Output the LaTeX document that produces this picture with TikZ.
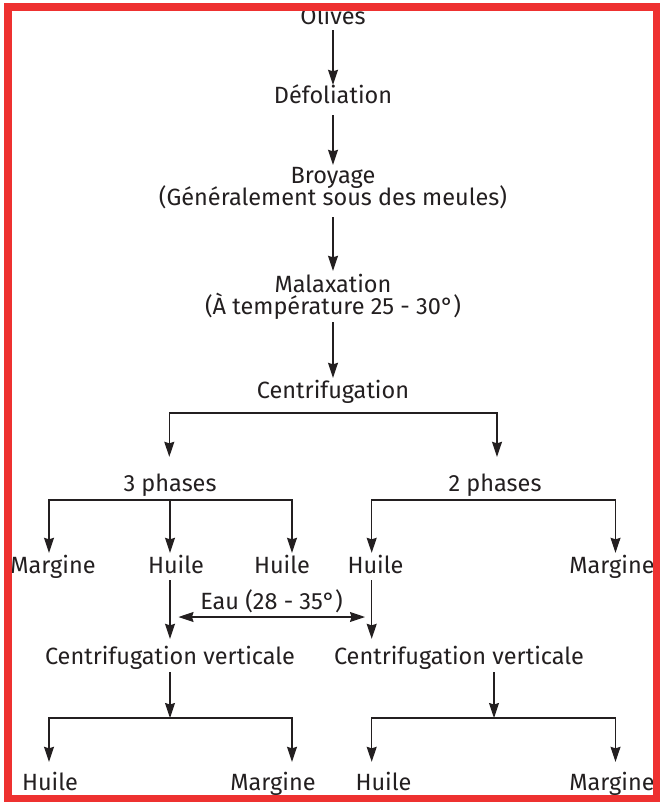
\documentclass[tikz,border=0pt]{standalone}
\usepackage{fontspec}
\setmainfont{Fira Sans}
\usetikzlibrary{arrows.meta}
\definecolor{ink}{HTML}{231F20}
\definecolor{framered}{HTML}{EE3130}
\begin{document}
\begin{tikzpicture}[x=1pt,y=-1pt,
  >={Stealth[length=15pt,width=10pt,inset=1.5pt]},
  lbl/.style={font=\fontsize{23.5}{27}\selectfont, text=ink, inner sep=0pt,
              text height=17pt, text depth=5pt, anchor=base},
  arr/.style={draw=ink, line width=1.1pt, ->},
  dbl/.style={draw=ink, line width=1.1pt, <->},
]
\useasboundingbox (0,0) rectangle (659,802);
\fill[white] (0,0) rectangle (659,802);

% main line of the process
\node[lbl] (olives) at (333,25)  {Olives};
\node[lbl] (defol)  at (333,104) {Défoliation};
\node[lbl] (broy)   at (333,184) {Broyage};
\node[lbl] (broy2)  at (333,206) {(Généralement sous des meules)};
\node[lbl] (malax)  at (333,292) {Malaxation};
\node[lbl] (malax2) at (333,314) {(À température 25 - 30°)};
\node[lbl] (centr)  at (333,398) {Centrifugation};

\draw[arr, shorten >=2pt] (olives) -- (defol);
\draw[arr, shorten <=6pt, shorten >=2pt] (defol) -- (broy);
\draw[arr, shorten <=6pt, shorten >=4pt] (broy2) -- (malax);
\draw[arr, shorten <=3pt, shorten >=3pt] (malax2) -- (centr);

% two procedures
\node[lbl] (ph3) at (170,491) {3 phases};
\node[lbl] (ph2) at (495,491) {2 phases};
\coordinate (cL) at (169.3,413);
\coordinate (cR) at (497,413);
\draw[dbl, shorten <=17pt, shorten >=17pt]
  (cL |- ph3.north) -- (cL) -- (cR) -- (cR |- ph2.north);

% products of the separation
\node[lbl] (marg1)  at (53,573)    {Margine};
\node[lbl] (huile1) at (176,573)   {Huile};
\node[lbl] (huile2) at (282,573)   {Huile};
\node[lbl] (huile3) at (375.5,573) {Huile};
\node[lbl] (marg2)  at (612,573)   {Margine};

\coordinate (t3L) at (49,500);
\coordinate (t3M) at (170,500);
\coordinate (t3R) at (292,500);
\coordinate (t2L) at (371.7,500);
\coordinate (t2R) at (615.5,500);
\draw[dbl, shorten <=3pt, shorten >=3pt]
  (t3L |- marg1.north) -- (t3L) -- (t3R) -- (t3R |- huile2.north);
\draw[arr, shorten >=3pt] (t3M) -- (t3M |- huile1.north);
\draw[dbl, shorten <=3pt, shorten >=3pt]
  (t2L |- huile3.north) -- (t2L) -- (t2R) -- (t2R |- marg2.north);

% vertical centrifugation with added water
\node[lbl] (cv1) at (170,664) {Centrifugation verticale};
\node[lbl] (cv2) at (459,664) {Centrifugation verticale};
\draw[arr, shorten <=2pt, shorten >=8pt] (huile1.south -| t3M) -- (t3M |- cv1.north);
\draw[arr, shorten <=2pt, shorten >=8pt] (huile3.south -| t2L) -- (t2L |- cv2.north);

\node[lbl] (eau) at (271.5,609) {Eau (28 - 35°)};
\coordinate (eauL) at (178.5,617);
\coordinate (eauR) at (365,617);
\draw[dbl] (eauL) -- (eauR);

% final separation
\node[lbl] (hb1) at (50,790)    {Huile};
\node[lbl] (mb1) at (273,790)   {Margine};
\node[lbl] (hb2) at (383.5,790) {Huile};
\node[lbl] (mb2) at (612,790)   {Margine};

\coordinate (bL) at (170,718);
\coordinate (bR) at (494,718);
\draw[arr, shorten <=3pt] (cv1.south) -- (bL);
\draw[arr, shorten <=3pt] (cv2.south -| bR) -- (bR);

\coordinate (bl1) at (49,718);
\coordinate (bl2) at (292,718);
\coordinate (br1) at (371.7,718);
\coordinate (br2) at (615.5,718);
\draw[dbl, shorten <=11pt, shorten >=11pt]
  (bl1 |- hb1.north) -- (bl1) -- (bl2) -- (bl2 |- mb1.north);
\draw[dbl, shorten <=11pt, shorten >=11pt]
  (br1 |- hb2.north) -- (br1) -- (br2) -- (br2 |- mb2.north);

% red frame
\draw[framered, line width=8pt] (7.5,6.7) rectangle (657,799);
\end{tikzpicture}
\end{document}
